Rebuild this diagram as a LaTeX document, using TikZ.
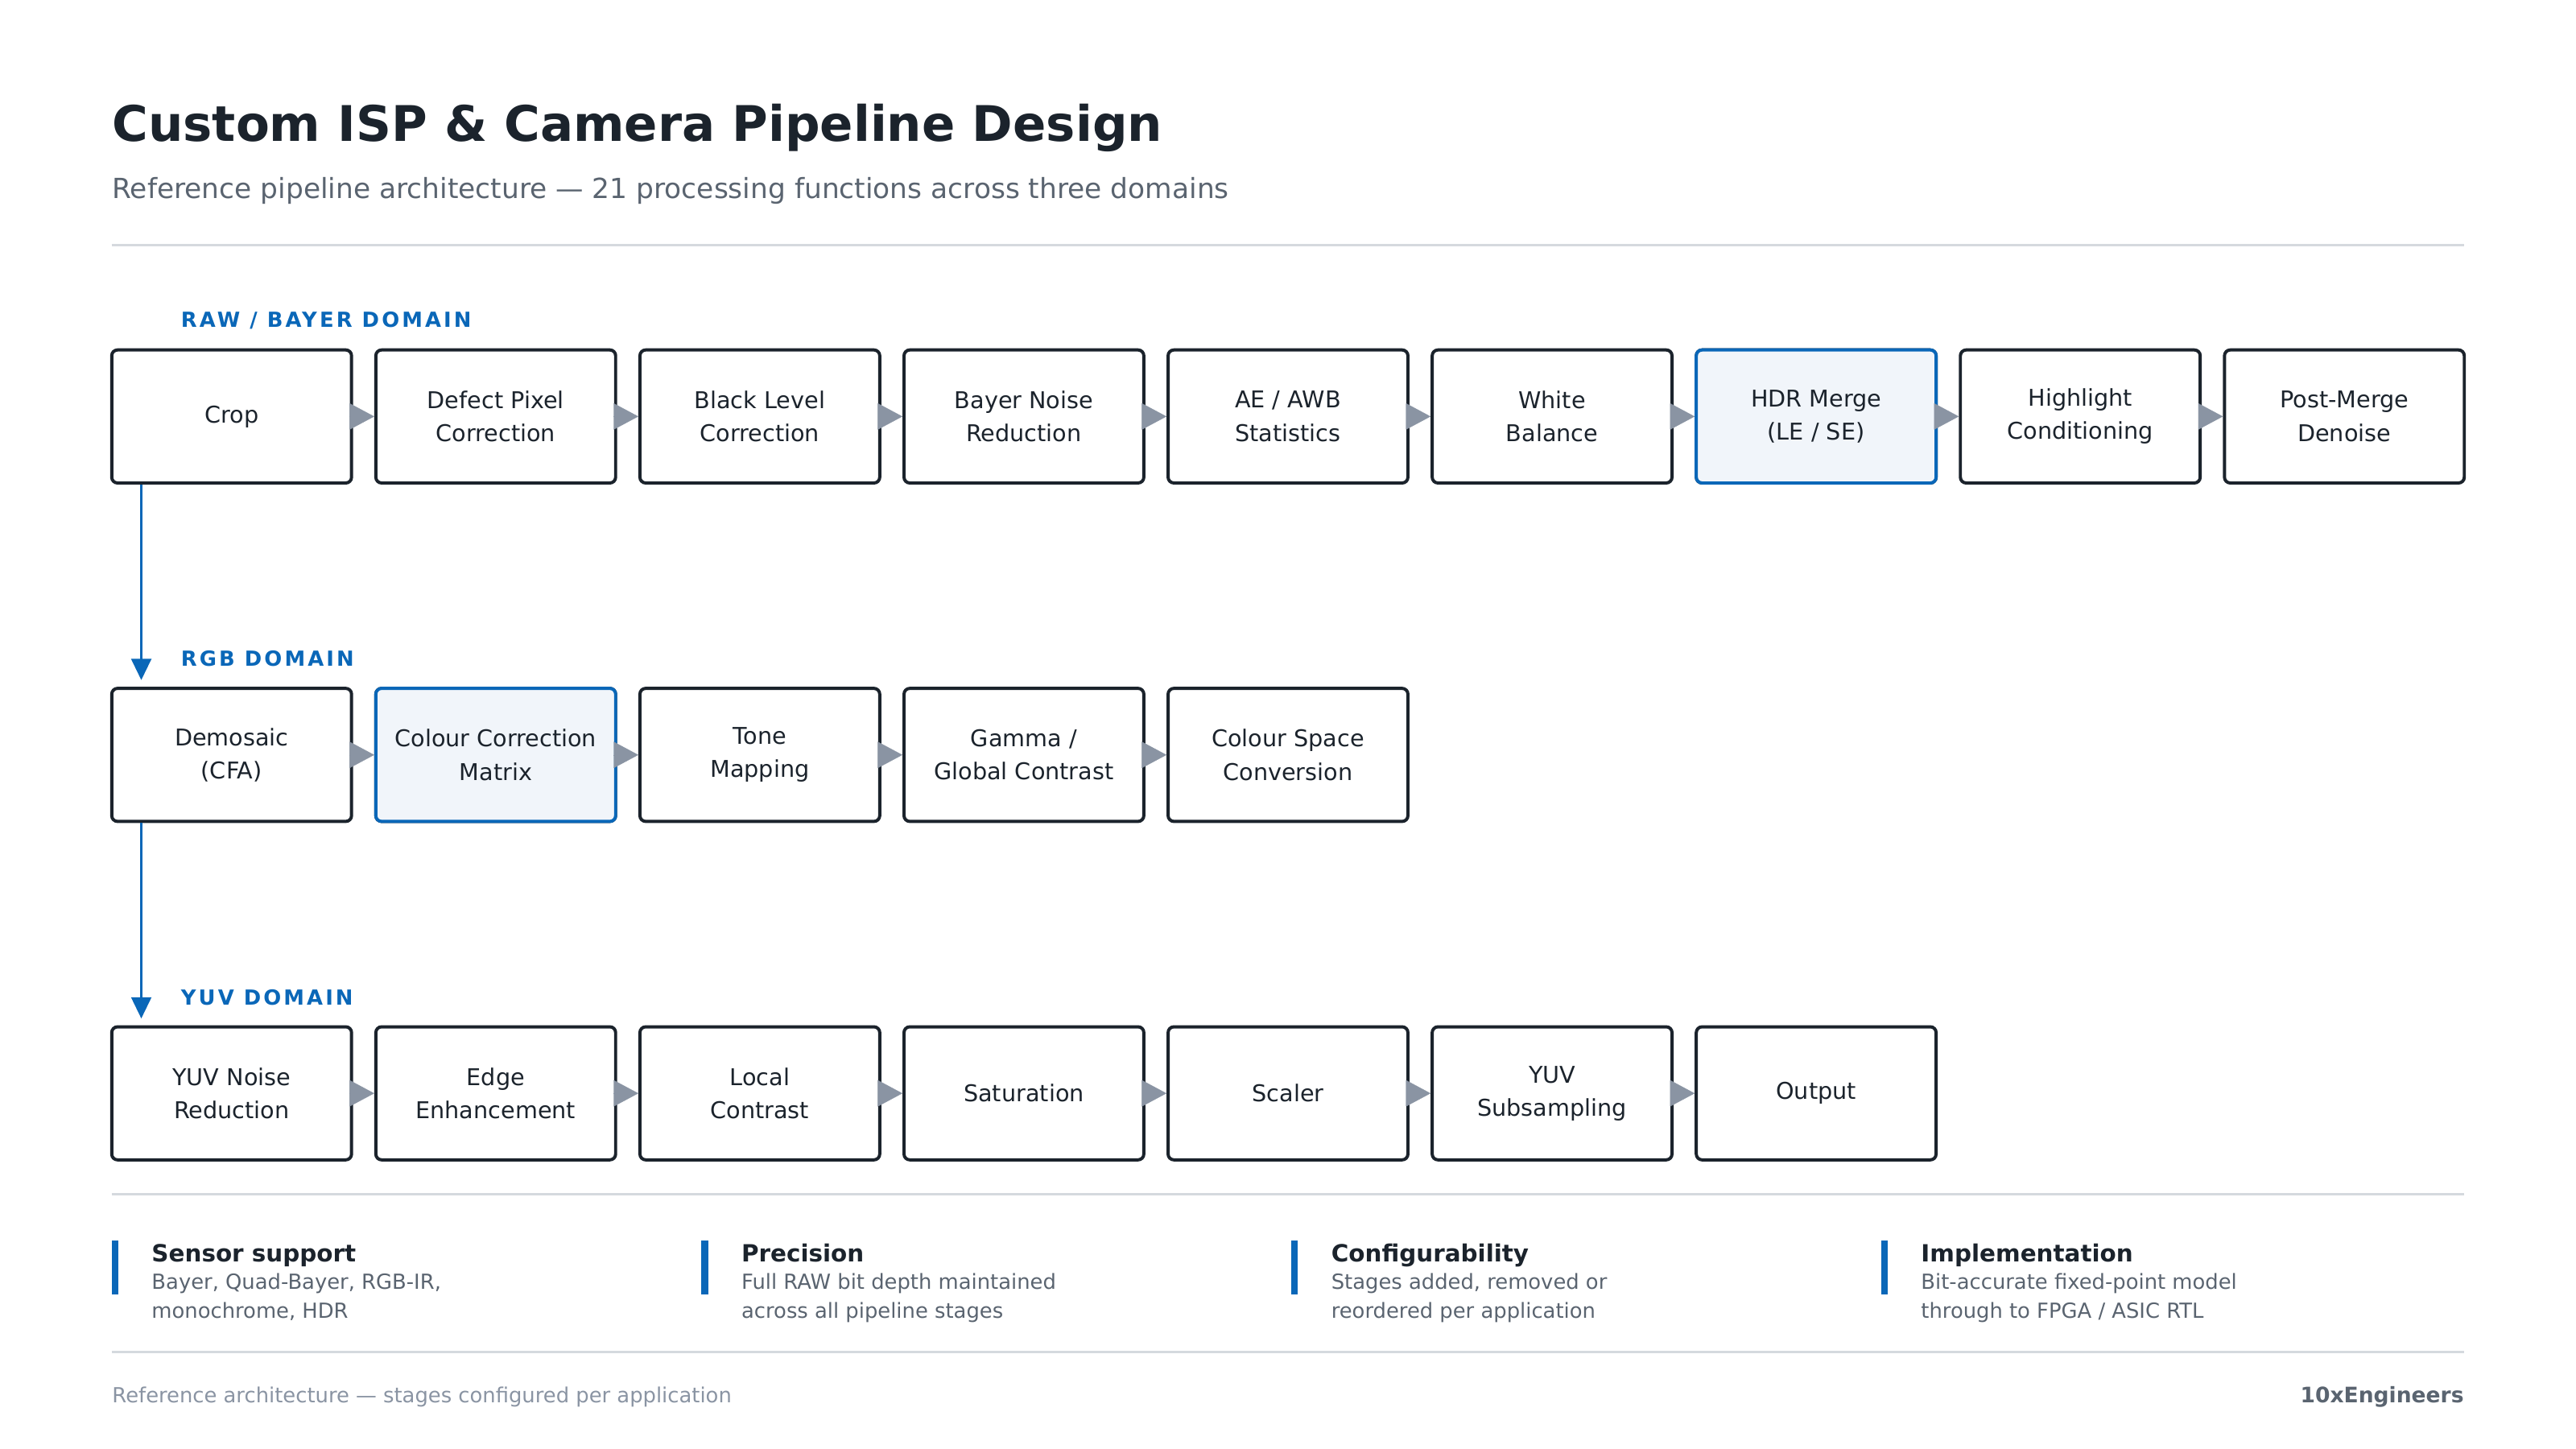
\documentclass[tikz,border=0pt]{standalone}
\usepackage{fontspec}
\setmainfont{DejaVu Sans}
\usetikzlibrary{arrows.meta,positioning}
\definecolor{ink}{HTML}{1B232C}
\definecolor{accent}{HTML}{0A67B8}
\definecolor{soft}{HTML}{F1F5FA}
\definecolor{grey}{HTML}{5A6470}
\definecolor{rule}{HTML}{D5D9DE}
\definecolor{pipe}{HTML}{8A94A3}
\tikzstyle{stage} = [draw=ink, line width=1.1pt, rounded corners=2pt, minimum width=2.92cm, minimum height=1.62cm, align=center, font=\fontsize{8}{11.5}\selectfont, text=ink, fill=white]
\tikzstyle{hot stage} = [stage, draw=accent, fill=soft]
\tikzstyle{flow} = [draw=pipe, line width=0.1pt, -{Triangle[length=0.3cm,width=0.32cm]}, shorten <=-1pt]
\tikzstyle{drop} = [draw=accent, line width=1.1pt, -{Triangle[length=0.26cm,width=0.24cm]}]
\tikzstyle{domain label} = [anchor=west, text=accent, font=\fontsize{7.2}{8}\selectfont\bfseries\addfontfeature{LetterSpace=12}]
\tikzstyle{rule line} = [draw=rule, line width=0.8pt]
\def\rawStages{{Crop}/r1, {Defect Pixel\\Correction}/r2, {Black Level\\Correction}/r3, {Bayer Noise\\Reduction}/r4, {AE / AWB\\Statistics}/r5, {White\\Balance}/r6, {HDR Merge\\(LE / SE)}/r7, {Highlight\\Conditioning}/r8, {Post-Merge\\Denoise}/r9}
\def\rgbStages{{Demosaic\\(CFA)}/g1, {Colour Correction\\Matrix}/g2, {Tone\\Mapping}/g3, {Gamma /\\Global Contrast}/g4, {Colour Space\\Conversion}/g5}
\def\yuvStages{{YUV Noise\\Reduction}/y1, {Edge\\Enhancement}/y2, {Local\\Contrast}/y3, {Saturation}/y4, {Scaler}/y5, {YUV\\Subsampling}/y6, {Output}/y7}
\def\notes{68/{Sensor support}/{Bayer, Quad-Bayer, RGB-IR,\\monochrome, HDR}, 427/{Precision}/{Full RAW bit depth maintained\\across all pipeline stages}, 786/{Configurability}/{Stages added, removed or\\reordered per application}, 1145/{Implementation}/{Bit-accurate fixed-point model\\through to FPGA / ASIC RTL}}

\begin{document}
\begin{tikzpicture}[x=0.02cm,y=-0.02cm]
  \useasboundingbox[fill=white] (0,0) rectangle (1568,882);

  % header
  \node[anchor=base west, inner sep=0, text=ink, font=\fontsize{17}{20}\selectfont\bfseries] (title) at (68,86) {Custom ISP \& Camera Pipeline Design};
  \node[anchor=base west, inner sep=0, text=grey, font=\fontsize{9.6}{12}\selectfont] (subtitle) at (68,121) {Reference pipeline architecture — 21 processing functions across three domains};
  \path[rule line] (68,149) -- (1500,149);

  % domain labels
  \node[domain label] (rawlabel) at (104,195) {RAW / BAYER DOMAIN};
  \node[domain label] (rgblabel) at (104,401) {RGB DOMAIN};
  \node[domain label] (yuvlabel) at (104,607) {YUV DOMAIN};

  % stages
  \foreach \label/\name [count=\i] in \rawStages {
    \node[stage] (\name) at ({141+160.75*(\i-1)},253.5) {\label};
  }
  \foreach \label/\name [count=\i] in \rgbStages {
    \node[stage] (\name) at ({141+160.75*(\i-1)},459.5) {\label};
  }
  \foreach \label/\name [count=\i] in \yuvStages {
    \node[stage] (\name) at ({141+160.75*(\i-1)},665.5) {\label};
  }
  \node[hot stage] at (r7) {HDR Merge\\(LE / SE)};
  \node[hot stage] at (g2) {Colour Correction\\Matrix};

  % connectors
  \foreach \a/\b in {r1/r2, r2/r3, r3/r4, r4/r5, r5/r6, r6/r7, r7/r8, r8/r9, g1/g2, g2/g3, g3/g4, g4/g5, y1/y2, y2/y3, y3/y4, y4/y5, y5/y6, y6/y7}
    \path[flow] (\a.east) -- (\b.west);

  \coordinate (rgbin) at (86,414);
  \coordinate (yuvin) at (86,620);
  \path[drop] (r1.south -| rgbin) -- (rgbin);
  \path[drop] (g1.south -| yuvin) -- (yuvin);

  % notes
  \path[rule line] (68,727) -- (1500,727);
  \foreach \x/\head/\body [count=\i] in \notes {
    \path[draw=accent, line width=2.4pt] (\x+2,755) -- (\x+2,788);
    \node[anchor=base west, inner sep=0, text=ink, font=\fontsize{8.2}{10}\selectfont\bfseries] (head\i) at (\x+24,768) {\head};
    \node[anchor=north west, inner sep=0, align=left, text=grey, font=\fontsize{7.2}{10}\selectfont] (body\i) at (\x+24,775) {\body};
  }
  \path[rule line] (68,823) -- (1500,823);

  % footer
  \node[anchor=base west, inner sep=0, text=pipe, font=\fontsize{7.2}{9}\selectfont] (foot) at (68,854) {Reference architecture — stages configured per application};
  \node[anchor=base east, inner sep=0, text=grey, font=\fontsize{7.4}{9}\selectfont\bfseries] (brand) at (1500,854) {10xEngineers};
\end{tikzpicture}
\end{document}
